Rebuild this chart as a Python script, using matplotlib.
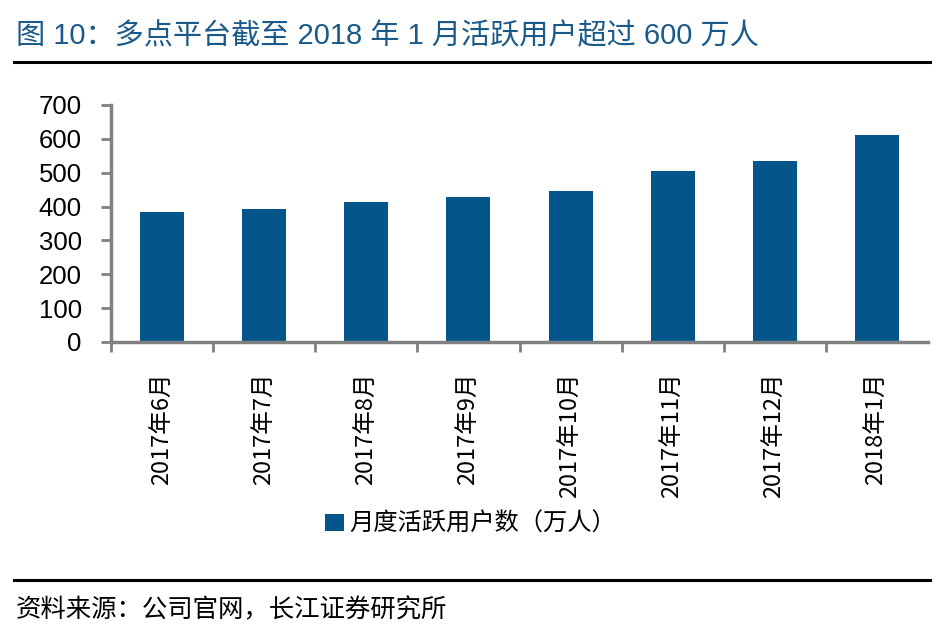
import matplotlib
matplotlib.use("Agg")
import matplotlib.pyplot as plt
from matplotlib.lines import Line2D

plt.rcParams['font.family'] = ['Liberation Sans', 'Noto Sans CJK SC', 'DejaVu Sans']

categories = ["2017年6月", "2017年7月", "2017年8月", "2017年9月",
              "2017年10月", "2017年11月", "2017年12月", "2018年1月"]
values = [383, 393, 414, 428, 446, 505, 535, 612]
series_name = "月度活跃用户数（万人）"
title = "图 10：多点平台截至 2018 年 1 月活跃用户超过 600 万人"
source = "资料来源：公司官网，长江证券研究所"
yticks = [0, 100, 200, 300, 400, 500, 600, 700]

W, H = 952, 642
fig = plt.figure(figsize=(W / 100, H / 100), dpi=100)

bar_color = "#03558A"
axis_color = "#808080"

ax = fig.add_axes([111 / W, 1 - 342 / H, (928 - 111) / W, (342 - 105) / H])
x = list(range(len(categories)))
ax.bar(x, values, width=0.43, color=bar_color, label=series_name)
ax.set_xlim(-0.5, len(categories) - 0.5)
ax.set_ylim(0, 700)
ax.set_yticks(yticks)
ax.set_yticklabels([str(v) for v in yticks], fontsize=18.5,
                   family=['Liberation Sans', 'DejaVu Sans'])
ax.set_xticks(x)
ax.set_xticklabels(categories, rotation=90, fontsize=17,
                   family=['Noto Sans CJK SC', 'DejaVu Sans'])
ax.tick_params(axis='x', length=0, pad=22)
ax.set_xticks([i - 0.5 for i in range(len(categories))], minor=True)
ax.tick_params(axis='x', which='minor', length=7, width=2, color=axis_color, direction='out')
ax.tick_params(axis='y', length=7, width=2, color=axis_color, direction='out', pad=14)
for s in ['top', 'right']:
    ax.spines[s].set_visible(False)
for s in ['left', 'bottom']:
    ax.spines[s].set_color(axis_color)
    ax.spines[s].set_linewidth(2.5)

leg = fig.legend(loc='center', bbox_to_anchor=(471 / W, 1 - 524 / H), frameon=False,
                 prop={'family': ['Noto Sans CJK SC', 'DejaVu Sans'], 'size': 17.5},
                 handlelength=0.75, handleheight=0.75, handletextpad=0.25)

fig.text(16 / W, 1 - 36 / H, title, fontsize=21, color="#1A5A8A", va='center', ha='left',
         family=['Liberation Sans', 'Noto Sans CJK SC', 'DejaVu Sans'])
fig.add_artist(Line2D([14 / W, 930 / W], [1 - 62 / H, 1 - 62 / H], color='black', lw=2.2,
                      transform=fig.transFigure))
fig.add_artist(Line2D([14 / W, 930 / W], [1 - 580 / H, 1 - 580 / H], color='black', lw=2.2,
                      transform=fig.transFigure))
fig.text(16 / W, 1 - 610 / H, source, fontsize=18.3, color='black', va='center', ha='left',
         family=['Noto Sans CJK SC', 'DejaVu Sans'])

fig.savefig("out.png", dpi=100)
